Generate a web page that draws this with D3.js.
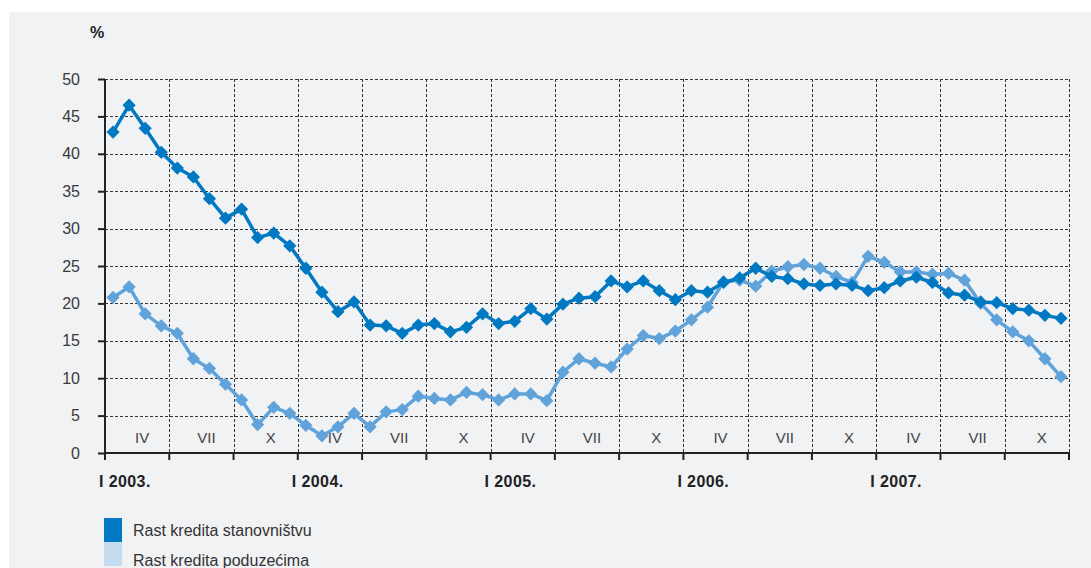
<!DOCTYPE html>
<html><head><meta charset="utf-8">
<script src="https://cdn.jsdelivr.net/npm/d3@7"></script>
<style>html,body{margin:0;padding:0;background:#fff;}svg{display:block;}</style>
</head><body>
<svg id="chart" width="1091" height="568"></svg>
<script>
const years = [2003, 2004, 2005, 2006, 2007];
const yearLabels = ["I 2003.", "I 2004.", "I 2005.", "I 2006.", "I 2007."];
const sectionLabels = ["IV", "VII", "X"];
const yTicks = [0, 5, 10, 15, 20, 25, 30, 35, 40, 45, 50];
const seriesNames = ["Rast kredita stanovništvu", "Rast kredita poduzećima"];

const households = [
  42.9, 46.5, 43.4, 40.2, 38.1, 36.9, 34.0, 31.4, 32.6, 28.8, 29.4, 27.7,
  24.7, 21.5, 18.9, 20.2, 17.1, 17.0, 16.0, 17.1, 17.3, 16.2, 16.8, 18.6,
  17.3, 17.6, 19.3, 17.9, 19.9, 20.7, 20.9, 23.0, 22.2, 23.0, 21.7, 20.5,
  21.7, 21.5, 22.8, 23.4, 24.7, 23.6, 23.3, 22.6, 22.4, 22.6, 22.4, 21.7,
  22.1, 23.0, 23.5, 22.8, 21.4, 21.1, 20.2, 20.1, 19.3, 19.1, 18.4, 18.0
];
const enterprises = [
  20.8, 22.2, 18.6, 17.0, 16.0, 12.6, 11.3, 9.2, 7.1, 3.8, 6.1, 5.3,
  3.7, 2.3, 3.5, 5.3, 3.5, 5.5, 5.8, 7.6, 7.3, 7.1, 8.1, 7.8,
  7.1, 7.9, 7.9, 7.0, 10.8, 12.6, 12.0, 11.5, 13.9, 15.7, 15.3, 16.3,
  17.8, 19.5, 22.9, 23.1, 22.3, 24.3, 24.9, 25.2, 24.7, 23.6, 22.8, 26.3,
  25.5, 24.2, 24.2, 23.9, 24.0, 23.1, 20.0, 17.8, 16.2, 15.0, 12.6, 10.2
];

const colors = ["#0079c2", "#5fa3da"];
const legendColors = ["#0079c2", "#c4dbf0"];
const FONT = "Liberation Sans, Arial, sans-serif";

const months = [];
years.forEach(yr => { for (let m = 1; m <= 12; m++) months.push(yr + "-" + m); });

const svg = d3.select("#chart");
svg.append("rect").attr("x", 9).attr("y", 12).attr("width", 1082).attr("height", 556).attr("fill", "#f1f2f4");

const pLeft = 105, pRight = 1069, pTop = 79, pBottom = 453;
const x = d3.scaleBand().domain(months).range([pLeft, pRight]).padding(0);
const y = d3.scaleLinear().domain([0, 50]).range([pBottom, pTop]);
const bw = x.bandwidth();
const cx = i => x(months[i]) + bw / 2;

const boundaries = months.filter((m, i) => i % 4 === 0).map(m => x(m)).concat([pRight]);

const grid = svg.append("g").attr("stroke", "#333").attr("stroke-width", 1).attr("stroke-dasharray", "3,2");
yTicks.filter(t => t > 0).forEach(t => {
  grid.append("line").attr("x1", pLeft).attr("x2", pRight).attr("y1", Math.round(y(t)) + 0.5).attr("y2", Math.round(y(t)) + 0.5);
});
boundaries.slice(1).forEach(bx => {
  grid.append("line").attr("x1", Math.round(bx) + 0.5).attr("x2", Math.round(bx) + 0.5).attr("y1", pTop).attr("y2", pBottom);
});

const yAxis = d3.axisLeft(y).tickValues(yTicks).tickSize(7).tickPadding(18);
const gy = svg.append("g").attr("transform", `translate(${pLeft},0)`).call(yAxis);
gy.select(".domain").attr("stroke", "#222").attr("stroke-width", 2).attr("d", `M0,${pTop}V${pBottom}`);
gy.selectAll(".tick line").attr("stroke", "#222").attr("stroke-width", 2);
gy.selectAll(".tick text").attr("font-family", FONT).attr("font-size", 16).attr("fill", "#3a3a3a");

svg.append("line").attr("x1", pLeft - 1).attr("x2", pRight + 1).attr("y1", pBottom).attr("y2", pBottom).attr("stroke", "#222").attr("stroke-width", 2);
boundaries.forEach(bx => {
  svg.append("line").attr("x1", bx).attr("x2", bx).attr("y1", pBottom).attr("y2", pBottom + 7).attr("stroke", "#222").attr("stroke-width", 2);
});

years.forEach((yr, k) => {
  svg.append("text").attr("x", x(months[k * 12]) - 6).attr("y", 487)
    .attr("font-family", FONT).attr("font-size", 16).attr("font-weight", "bold").attr("letter-spacing", 0.4)
    .attr("fill", "#222").text(yearLabels[k]);
  sectionLabels.forEach((lab, s) => {
    const sx = x(months[k * 12 + s * 4 + 2]) + 5;
    svg.append("text").attr("x", sx).attr("y", 443).attr("text-anchor", "middle")
      .attr("font-family", FONT).attr("font-size", 15)
      .attr("fill", "#444").text(lab);
  });
});

svg.append("text").attr("x", 90).attr("y", 38).attr("font-family", FONT)
  .attr("font-size", 16).attr("font-weight", "bold").attr("fill", "#222").text("%");

const line = d3.line().x((d, i) => cx(i)).y(d => y(d));
const sym = d3.symbol().type(d3.symbolSquare).size(88);
[enterprises, households].forEach((data, k) => {
  const c = k === 0 ? colors[1] : colors[0];
  svg.append("path").datum(data).attr("d", line).attr("fill", "none").attr("stroke", c).attr("stroke-width", 3.5).attr("stroke-linejoin", "round");
  svg.append("g").selectAll("path").data(data).join("path")
    .attr("d", sym).attr("fill", c)
    .attr("transform", (d, i) => `translate(${cx(i)},${y(d)}) rotate(45)`);
});

seriesNames.forEach((name, k) => {
  svg.append("rect").attr("x", 104).attr("y", 518 + k * 24).attr("width", 18).attr("height", 24).attr("fill", legendColors[k]);
  svg.append("text").attr("x", 133).attr("y", 536 + k * 30).attr("font-family", FONT)
    .attr("font-size", 16).attr("fill", "#333").text(name);
});
</script>
</body></html>
